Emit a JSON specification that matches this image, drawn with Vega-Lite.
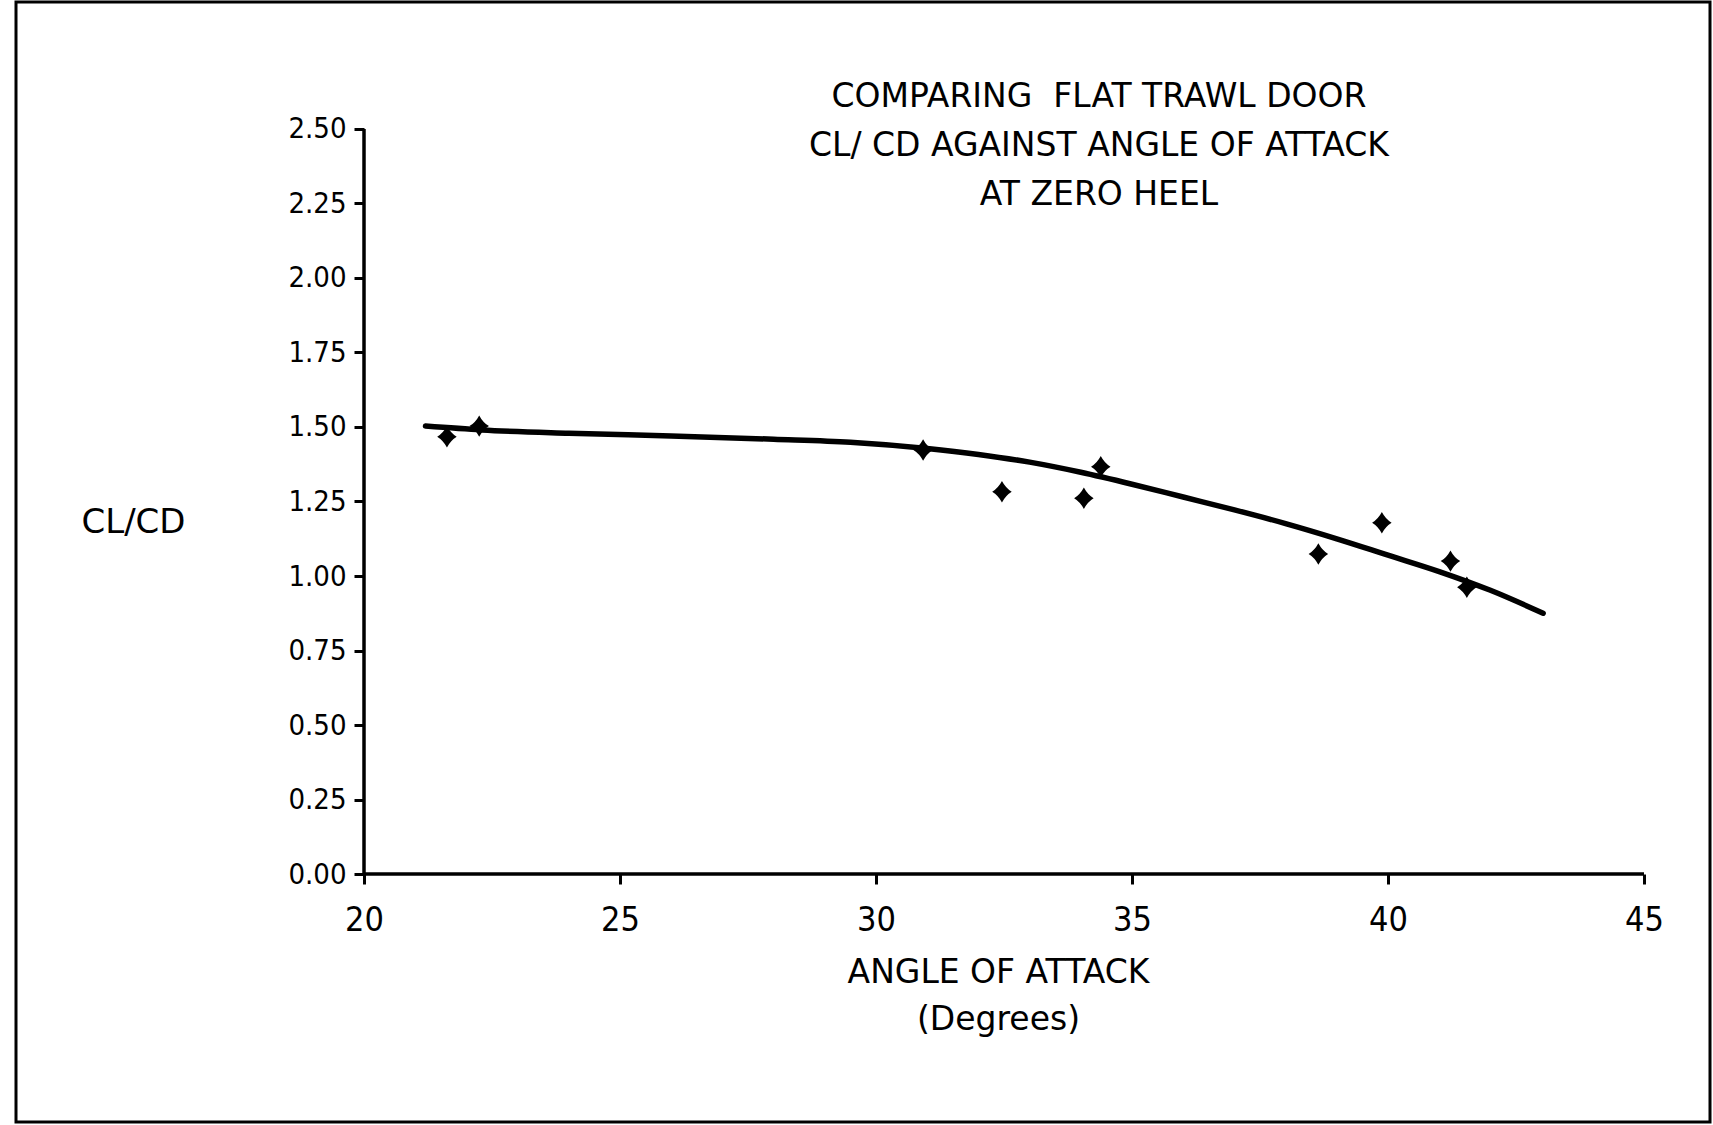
{
  "$schema": "https://vega.github.io/schema/vega-lite/v6.json",
  "width": 1694,
  "height": 1120,
  "autosize": {"type": "none"},
  "padding": {"left": 16, "top": 2, "right": 3, "bottom": 3},
  "background": "white",
  "config": {
    "view": {"stroke": "black", "strokeWidth": 3},
    "font": "DejaVu Sans"
  },
  "title": {
    "text": ["COMPARING\u00a0 FLAT TRAWL DOOR", "CL/ CD AGAINST ANGLE OF ATTACK", "AT ZERO HEEL"],
    "font": "DejaVu Sans",
    "fontSize": 33,
    "fontWeight": "normal",
    "color": "black",
    "anchor": "middle",
    "frame": "group",
    "baseline": "top",
    "offset": 0,
    "dx": 236,
    "dy": 210,
    "lineHeight": 49
  },
  "datasets": {
    "points": [
      {"angle": 21.62, "clcd": 1.467},
      {"angle": 22.25, "clcd": 1.503},
      {"angle": 30.92, "clcd": 1.423},
      {"angle": 32.46, "clcd": 1.283},
      {"angle": 34.06, "clcd": 1.261},
      {"angle": 34.39, "clcd": 1.367},
      {"angle": 38.64, "clcd": 1.074},
      {"angle": 39.88, "clcd": 1.179},
      {"angle": 41.22, "clcd": 1.050},
      {"angle": 41.54, "clcd": 0.962}
    ],
    "curve": [
      {"angle": 21.2, "clcd": 1.503},
      {"angle": 22.3, "clcd": 1.490},
      {"angle": 24.0, "clcd": 1.479},
      {"angle": 26.0, "clcd": 1.470},
      {"angle": 28.0, "clcd": 1.459},
      {"angle": 29.5, "clcd": 1.449},
      {"angle": 31.0, "clcd": 1.428},
      {"angle": 32.0, "clcd": 1.408},
      {"angle": 33.0, "clcd": 1.382},
      {"angle": 34.0, "clcd": 1.348},
      {"angle": 35.0, "clcd": 1.308},
      {"angle": 36.0, "clcd": 1.265},
      {"angle": 37.0, "clcd": 1.222},
      {"angle": 38.0, "clcd": 1.176},
      {"angle": 39.0, "clcd": 1.125},
      {"angle": 40.0, "clcd": 1.070},
      {"angle": 41.0, "clcd": 1.015},
      {"angle": 42.0, "clcd": 0.952},
      {"angle": 43.03, "clcd": 0.875}
    ],
    "axisline": [{"x0": 20, "x1": 45, "y0": 0, "y1": 2.5}]
  },
  "layer": [
    {
      "data": {"name": "curve"},
      "mark": {"type": "line", "color": "black", "strokeWidth": 5.5, "interpolate": "monotone", "strokeCap": "round"},
      "encoding": {
        "x": {"field": "angle", "type": "quantitative"},
        "y": {"field": "clcd", "type": "quantitative"}
      }
    },
    {
      "data": {"name": "points"},
      "mark": {
        "type": "point",
        "filled": true,
        "color": "black",
        "opacity": 1,
        "size": 380,
        "shape": "M0,-1.1Q0.38,-0.38,1,0Q0.38,0.38,0,1.1Q-0.38,0.38,-1,0Q-0.38,-0.38,0,-1.1Z"
      },
      "encoding": {
        "x": {
          "field": "angle",
          "type": "quantitative",
          "scale": {"domain": [13.203, 46.289], "nice": false, "zero": false},
          "axis": {
            "orient": "bottom",
            "offset": -248,
            "values": [20, 25, 30, 35, 40, 45],
            "format": "d",
            "domain": false,
            "grid": false,
            "ticks": true,
            "tickSize": 10,
            "tickWidth": 3,
            "tickColor": "black",
            "labelFont": "'Liberation Sans Narrow', 'DejaVu Sans Condensed', 'DejaVu Sans', sans-serif",
            "labelFontSize": 34,
            "labelColor": "black",
            "labelPadding": 19,
            "title": ["ANGLE OF ATTACK", "(Degrees)"],
            "titleFont": "DejaVu Sans",
            "titleFontSize": 33,
            "titleFontWeight": "normal",
            "titleColor": "black",
            "titleX": 982,
            "titleY": 82,
            "titleAlign": "center",
            "titleBaseline": "top",
            "titleLineHeight": 47
          }
        },
        "y": {
          "field": "clcd",
          "type": "quantitative",
          "scale": {"domain": [-0.832, 2.926], "nice": false, "zero": false},
          "axis": {
            "orient": "left",
            "offset": -348,
            "values": [0, 0.25, 0.5, 0.75, 1, 1.25, 1.5, 1.75, 2, 2.25, 2.5],
            "format": ".2f",
            "domain": false,
            "grid": false,
            "ticks": true,
            "tickSize": 10,
            "tickWidth": 3,
            "tickColor": "black",
            "labelFont": "'Liberation Sans Narrow', 'DejaVu Sans Condensed', 'DejaVu Sans', sans-serif",
            "labelFontSize": 29,
            "labelColor": "black",
            "labelPadding": 8,
            "title": "CL/CD",
            "titleFont": "DejaVu Sans",
            "titleFontSize": 34,
            "titleFontWeight": "normal",
            "titleColor": "black",
            "titleAngle": 0,
            "titleX": -231,
            "titleY": 520,
            "titleAlign": "center",
            "titleBaseline": "middle"
          }
        }
      }
    },
    {
      "data": {"name": "axisline"},
      "mark": {"type": "rule", "color": "black", "strokeWidth": 3.5},
      "encoding": {
        "x": {"field": "x0", "type": "quantitative"},
        "y": {"field": "y0", "type": "quantitative"},
        "y2": {"field": "y1"}
      }
    },
    {
      "data": {"name": "axisline"},
      "mark": {"type": "rule", "color": "black", "strokeWidth": 3.5},
      "encoding": {
        "x": {"field": "x0", "type": "quantitative"},
        "x2": {"field": "x1"},
        "y": {"field": "y0", "type": "quantitative"}
      }
    }
  ]
}
